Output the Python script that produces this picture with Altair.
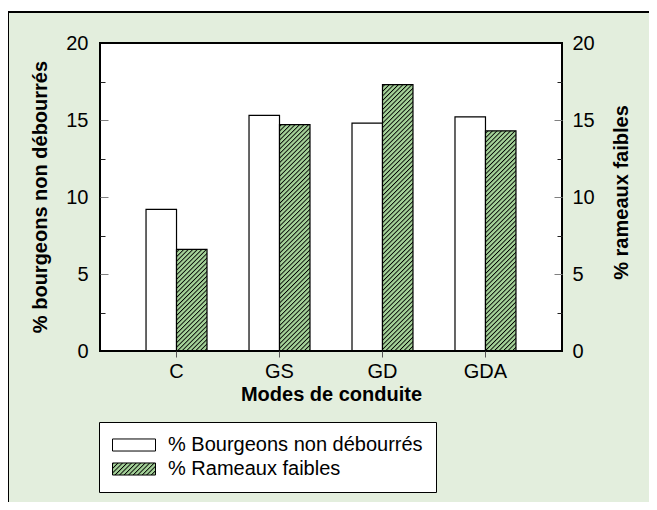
import altair as alt
import pandas as pd

# ---- data ----
categories = ["C", "GS", "GD", "GDA"]
series_names = ["% Bourgeons non débourrés", "% Rameaux faibles"]
bourgeons = [9.2, 15.3, 14.8, 15.2]
rameaux = [6.6, 14.7, 17.3, 14.3]
y_label_values = [0, 5, 10, 15, 20]
y_major_ticks = [5, 10, 15]
y_minor_ticks = [2.5, 7.5, 12.5, 17.5]

W, H = 462, 308
BG = "#e3eedd"
GREEN = "#a6d49a"
FONT = "Liberation Sans"
FS = 20

df = pd.DataFrame({
    "cat": categories * 2,
    "series": [series_names[0]] * len(categories) + [series_names[1]] * len(categories),
    "value": bourgeons + rameaux,
})
one = pd.DataFrame({"a": [0]})

yscale = alt.Scale(domain=[0, 20], nice=False, zero=True)

# decorative background panel and plot frame
bg = alt.Chart(one).mark_rect(fill=BG, stroke="black", strokeWidth=2).encode(
    x=alt.value(-92), x2=alt.value(700), y=alt.value(-31), y2=alt.value(600)
)
frame = alt.Chart(one).mark_rect(fill="white", strokeWidth=0).encode(
    x=alt.value(0), x2=alt.value(W), y=alt.value(0), y2=alt.value(H)
)
outline = alt.Chart(one).mark_rect(fillOpacity=0, stroke="black", strokeWidth=2).encode(
    x=alt.value(0), x2=alt.value(W), y=alt.value(0), y2=alt.value(H)
)

bars = alt.Chart(df).mark_bar(stroke="black", strokeWidth=1.2).encode(
    x=alt.X(
        "cat:N", sort=categories,
        scale=alt.Scale(paddingInner=0, paddingOuter=0.243),
        axis=alt.Axis(
            title="Modes de conduite", labelAngle=0, labelFontSize=FS, labelColor="black",
            labelPadding=4.5, domain=False, ticks=True, tickSize=6, tickColor="#555555",
            titleFontSize=FS, titleFontWeight="bold", titleColor="black",
            titleX=W / 2, titleY=43, titleBaseline="middle", zindex=1,
        ),
    ),
    xOffset=alt.XOffset(
        "series:N", sort=series_names,
        scale=alt.Scale(paddingInner=0, paddingOuter=0.689),
    ),
    y=alt.Y(
        "value:Q", scale=yscale,
        axis=alt.Axis(
            orient="left", values=y_label_values, ticks=False, tickSize=0, domain=False,
            grid=False, labelFontSize=FS, labelColor="black", labelPadding=12,
            title="% bourgeons non débourrés", titleFontSize=FS, titleFontWeight="bold",
            titleColor="black", titleAngle=270, titleX=-60, titleY=153.5,
            titleBaseline="middle", titleAlign="center", zindex=1,
        ),
    ),
    fill=alt.Fill(
        "series:N", sort=series_names,
        scale=alt.Scale(domain=series_names, range=["white", "url(#hatch)"]),
        legend=alt.Legend(
            title=None, orient="none", legendX=-1, legendY=379,
            fillColor="white", strokeColor="black", padding=13,
            symbolType="M-1,-0.28H1V0.28H-1Z", symbolSize=1849,
            symbolStrokeColor="black", symbolStrokeWidth=1, symbolOpacity=1,
            labelFontSize=FS, labelColor="black", labelOffset=12, labelLimit=400,
            rowPadding=4, clipHeight=20,
        ),
    ),
)

def tick_axis(orient, values, size, color):
    return alt.Chart(df).mark_point(opacity=0).encode(
        y=alt.Y(
            "value:Q", scale=yscale,
            axis=alt.Axis(
                orient=orient, offset=-W, values=values, tickSize=size, tickColor=color,
                tickWidth=1, labels=False, domain=False, grid=False, title=None, zindex=2,
            ),
        )
    )

right_labels = alt.Chart(df).mark_point(opacity=0).encode(
    y=alt.Y(
        "value:Q", scale=yscale,
        axis=alt.Axis(
            orient="right", values=y_label_values, ticks=False, tickSize=0, domain=False,
            grid=False, labelFontSize=FS, labelColor="black", labelPadding=10,
            title="% rameaux faibles", titleFontSize=FS, titleFontWeight="bold",
            titleColor="black", titleAngle=270, titleX=59, titleY=149,
            titleBaseline="middle", titleAlign="center", zindex=1,
        ),
    )
)

chart = alt.layer(
    bg, frame, bars, right_labels,
    tick_axis("right", y_major_ticks, 8, "#808080"),
    tick_axis("right", y_minor_ticks, 5, "#222222"),
    tick_axis("left", y_major_ticks, 8, "#808080"),
    tick_axis("left", y_minor_ticks, 5, "#222222"),
    outline,
).resolve_axis(y="independent").properties(
    width=W, height=H,
    autosize=alt.AutoSizeParams(type="none"),
    padding={"left": 92, "top": 35, "right": 87, "bottom": 151},
).configure(font=FONT).configure_view(strokeWidth=0)

chart.save("out.html", embed_options={"renderer": "svg", "actions": False})

# hatch pattern used by the "url(#hatch)" fill
defs = (
    '<svg width="0" height="0" style="position:absolute;left:0;top:0">'
    '<defs><pattern id="hatch" patternUnits="userSpaceOnUse" width="3.2" height="3.2" '
    'patternTransform="rotate(45)">'
    f'<rect x="0" y="0" width="3.2" height="3.2" fill="{GREEN}"/>'
    '<line x1="0.45" y1="0" x2="0.45" y2="3.2" stroke="black" stroke-width="0.9"/>'
    '</pattern></defs></svg>'
)
with open("out.html", encoding="utf-8") as f:
    html = f.read()
html = html.replace("<body>", "<body>" + defs, 1)
with open("out.html", "w", encoding="utf-8") as f:
    f.write(html)
